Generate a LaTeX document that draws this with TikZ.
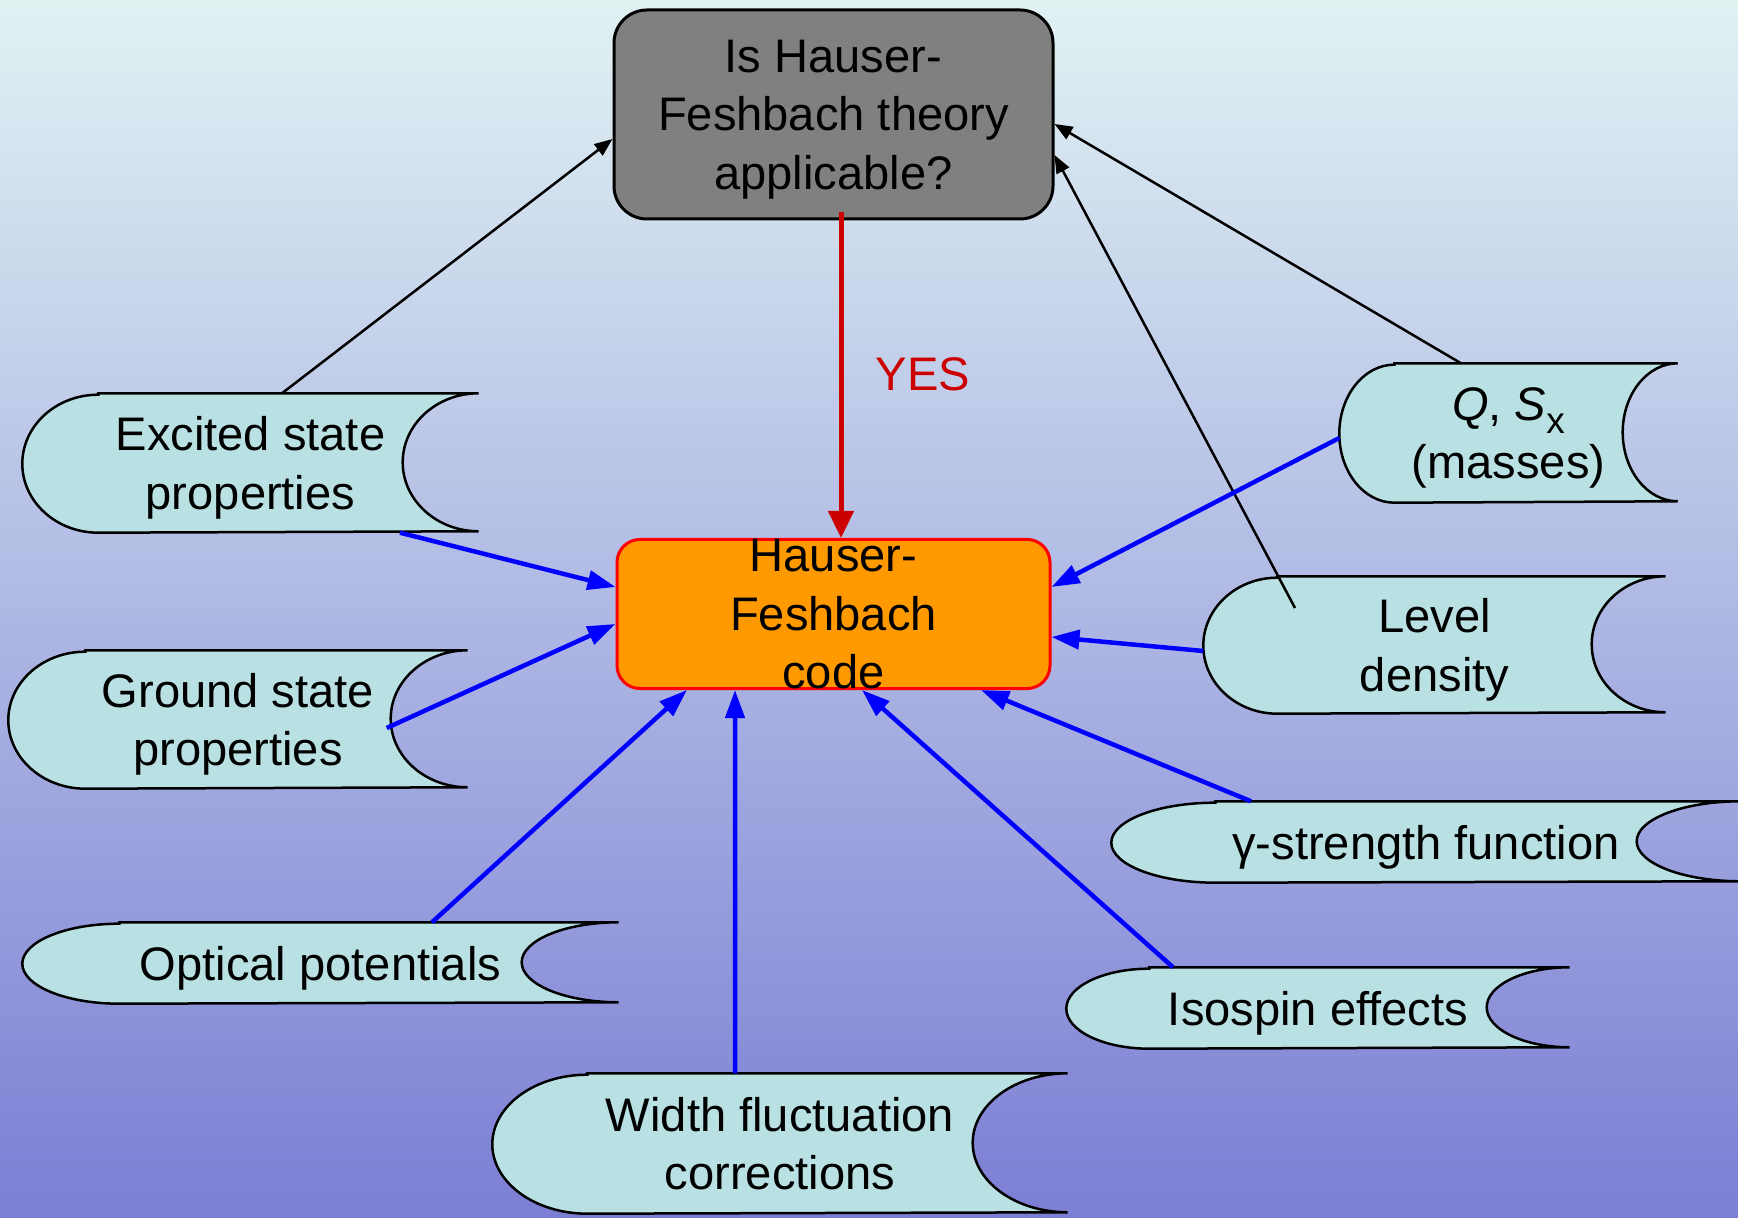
\documentclass[tikz,border=0pt]{standalone}
\usepackage{fontspec}
\setmainfont{Liberation Sans}
\usetikzlibrary{arrows.meta,calc}

\definecolor{bgtop}{RGB}{225,242,243}
\definecolor{bgbot}{RGB}{124,126,212}
\definecolor{datafill}{RGB}{185,224,226}
\definecolor{hforange}{RGB}{255,153,0}
\definecolor{hfgray}{RGB}{128,128,128}
\definecolor{yesred}{RGB}{204,0,0}
\definecolor{linkblue}{RGB}{0,0,255}

\pgfdeclarelayer{backdrop}
\pgfdeclarelayer{shapes}
\pgfsetlayers{backdrop,shapes,main}

% stored-data outline around a node: convex left end, concave right end
% #1 node name, #2 half-width of the end ellipse (px), #3 half-height (px)
\newcommand\datashape[3]{%
  \draw[dataline] ([xshift=#2*0.1mm]#1.north west) -- (#1.north east)
    arc[start angle=90, end angle=270, x radius=#2*0.1mm, y radius=#3*0.1mm]
    -- ([xshift=#2*0.1mm]#1.south west)
    arc[start angle=270, end angle=90, x radius=#2*0.1mm, y radius=#3*0.1mm]
    -- cycle;}

\newcommand\subx{\raisebox{-0.28em}{\fontsize{10.5}{10.5}\selectfont x}}

\begin{document}
\begin{tikzpicture}[x=0.1mm,y=-0.1mm,
  every node/.style={font=\fontsize{13.4}{16.6}\selectfont, align=center, inner sep=0pt, text depth=-0.9pt},
  datanode/.style={draw=none},
  dataline/.style={draw=black, line width=0.25mm, fill=datafill},
  querybox/.style={draw=black, line width=0.3mm, fill=hfgray, rounded corners=3.3mm},
  codebox/.style={draw=red, line width=0.3mm, fill=hforange, rounded corners=2.3mm},
  blk/.style={draw=black, line width=0.25mm, -{Triangle[length=1.8mm,width=1.4mm]}},
  bluelink/.style={draw=linkblue, line width=0.45mm, -{Triangle[length=2.8mm,width=1.9mm]}},
  yesarrow/.style={draw=yesred, line width=0.5mm, -{Triangle[length=2.7mm,width=2.5mm]}}]

\useasboundingbox (0,0) rectangle (1738,1218);
\begin{pgfonlayer}{backdrop}
  \shade[top color=bgtop, bottom color=bgbot] (0,0) rectangle (1738,1218);
\end{pgfonlayer}

% central boxes
\node[querybox, minimum width=43.9mm, minimum height=20.9mm] (hf) at (833.5,114.5)
  {Is Hauser-\\Feshbach theory\\applicable?};
\node[codebox, minimum width=43.3mm, minimum height=14.6mm] (code) at (833.5,614)
  {Hauser-\\Feshbach\\code};

% input data
\node[datanode, minimum width=45.5mm, minimum height=13.8mm] (exc) at (250.5,463)
  {Excited state\\properties};
\node[datanode, minimum width=45.8mm, minimum height=13.7mm] (gs) at (238,719.5)
  {Ground state\\properties};
\node[datanode, minimum width=59.5mm, minimum height=8mm] (opt) at (320.5,963)
  {Optical potentials};
\node[datanode, minimum width=57.4mm, minimum height=13.9mm] (wfc) at (780,1143.5)
  {Width fluctuation\\corrections};
\node[datanode, minimum width=50.2mm, minimum height=8mm] (iso) at (1318,1008)
  {Isospin effects};
\node[datanode, minimum width=62.8mm, minimum height=8mm] (gam) at (1426,842)
  {γ-strength function};
\node[datanode, minimum width=46.1mm, minimum height=13.6mm] (lev) at (1434.5,645)
  {Level\\density};
\node[datanode, minimum width=33.7mm, minimum height=13.8mm] (qsx) at (1508.5,433)
  {\textit{Q}, \textit{S}\subx\\(masses)};

\begin{pgfonlayer}{shapes}
  \datashape{exc}{76}{69}
  \datashape{gs}{77}{68.5}
  \datashape{opt}{97}{40}
  \datashape{wfc}{95}{69.5}
  \datashape{iso}{83}{40}
  \datashape{gam}{104}{40}
  \datashape{lev}{74}{68}
  \datashape{qsx}{55}{69}
\end{pgfonlayer}

% applicability checks
\draw[blk] ([xshift=3.15mm]exc.north) -- ([yshift=-2.45mm]hf.west);
\draw[blk] ([xshift=-4.75mm]qsx.north) -- ([yshift=-0.95mm]hf.east);
\draw[blk] ([xshift=-13.95mm,yshift=3.7mm]lev.center) -- ([yshift=-4.05mm]hf.east);

% decision
\draw[yesarrow] ([xshift=0.75mm,yshift=0.8mm]hf.south) -- ([xshift=0.75mm]code.north);
\node[text=yesred] (yes) at (923,374) {YES};

% inputs to the code
\draw[bluelink] ([xshift=14.95mm]exc.south) -- ([yshift=2.7mm]code.west);
\draw[bluelink] ([xshift=-8.1mm,yshift=-0.85mm]gs.east) -- ([yshift=-1mm]code.west);
\draw[bluelink] ([xshift=11.15mm]opt.north) -- ([xshift=-14.65mm]code.south);
\draw[bluelink] ([xshift=-4.5mm]wfc.north) -- ([xshift=-9.85mm]code.south);
\draw[bluelink] ([xshift=-14.5mm]iso.north) -- ([xshift=2.85mm]code.south);
\draw[bluelink] ([xshift=-17.5mm]gam.north) -- ([xshift=14.75mm]code.south);
\draw[bluelink] ([yshift=-0.6mm]lev.west) -- ([yshift=-2.3mm]code.east);
\draw[bluelink] ([yshift=-0.5mm]qsx.west) -- ([yshift=2.7mm]code.east);

\end{tikzpicture}
\end{document}
